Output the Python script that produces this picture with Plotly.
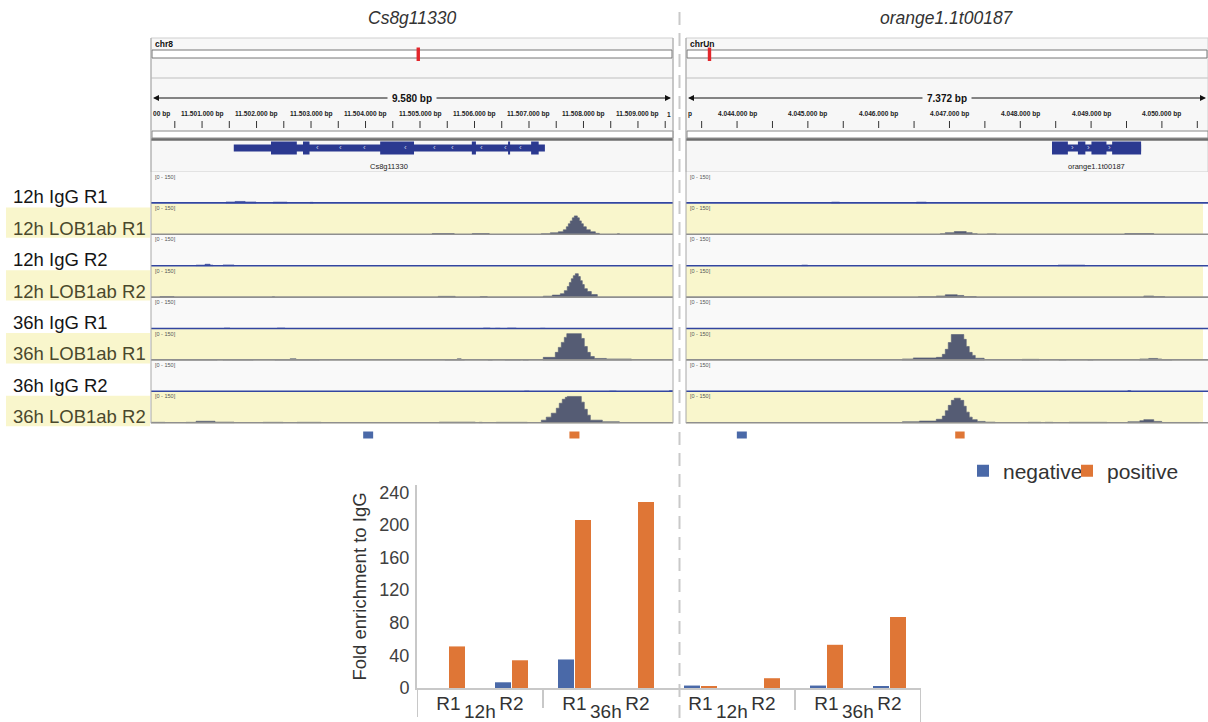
import plotly.graph_objects as go

W, H = 1208, 722
FONT = "Liberation Sans, Arial, sans-serif"

# ---------------- data: genome browser context ----------------
gene_titles = ["Cs8g11330", "orange1.1t00187"]
chrom_names = ["chr8", "chrUn"]
span_labels = ["9.580 bp", "7.372 bp"]
view_start = [11500063, 4043279]
view_end = [11509643, 4050651]
ideogram_frac = [0.512, 0.045]

ruler_ticks_left = [11500500, 11501000, 11501500, 11502000, 11502500, 11503000, 11503500,
                    11504000, 11504500, 11505000, 11505500, 11506000, 11506500, 11507000,
                    11507500, 11508000, 11508500, 11509000, 11509500]
ruler_label_pos_left = [11501000, 11502000, 11503000, 11504000, 11505000, 11506000,
                        11507000, 11508000, 11509000]
ruler_labels_left = ["11.501.000 bp", "11.502.000 bp", "11.503.000 bp", "11.504.000 bp",
                     "11.505.000 bp", "11.506.000 bp", "11.507.000 bp", "11.508.000 bp",
                     "11.509.000 bp"]
ruler_ticks_right = [4043500, 4044000, 4044500, 4045000, 4045500, 4046000, 4046500, 4047000,
                     4047500, 4048000, 4048500, 4049000, 4049500, 4050000, 4050500]
ruler_label_pos_right = [4044000, 4045000, 4046000, 4047000, 4048000, 4049000, 4050000]
ruler_labels_right = ["4.044.000 bp", "4.045.000 bp", "4.046.000 bp", "4.047.000 bp",
                      "4.048.000 bp", "4.049.000 bp", "4.050.000 bp"]
ruler_edge_left = ("00 bp", "1")
ruler_edge_right = ("p", "")

gene_span = [(11501582, 11507292), (4048448, 4049706)]
gene_exons_left = [(11502265, 11502739), (11502853, 11502972), (11504269, 11504890),
                   (11505951, 11506026), (11506616, 11506653), (11507039, 11507178)]
gene_exons_right = [(4048448, 4048672), (4048814, 4048919), (4049005, 4049217),
                    (4049297, 4049706)]
chevrons_left = [11503112, 11503534, 11503975, 11504728, 11505261, 11505591, 11506124,
                 11506565, 11506840]
chevrons_right = [4048743, 4048962, 4049257]

amplicons_left = [("negative", 11503957, 11504140), ("positive", 11507742, 11507926)]
amplicons_right = [("negative", 4043997, 4044138), ("positive", 4047081, 4047214)]

track_labels = ["12h IgG R1", "12h LOB1ab R1", "12h IgG R2", "12h LOB1ab R2",
                "36h IgG R1", "36h LOB1ab R1", "36h IgG R2", "36h LOB1ab R2"]

cov_left = [
    [(11501440, 11501606, 8), (11501606, 11501790, 11), (11501790, 11501991, 8),
     (11502304, 11502561, 7), (11502983, 11503038, 6)],
    [(11505224, 11505628, 7), (11505959, 11506271, 7),
     (11507226, 11507391, 6), (11507391, 11507538, 11), (11507538, 11507630, 17),
     (11507630, 11507685, 28), (11507685, 11507722, 45), (11507722, 11507758, 62),
     (11507758, 11507795, 78), (11507795, 11507832, 95), (11507832, 11507887, 106),
     (11507887, 11507924, 95), (11507924, 11507960, 78), (11507960, 11507997, 62),
     (11507997, 11508052, 45), (11508052, 11508126, 28), (11508126, 11508218, 17),
     (11508218, 11508291, 8), (11508622, 11508660, 6)],
    [(11500890, 11501055, 6), (11501055, 11501147, 11), (11501147, 11501202, 6),
     (11501385, 11501587, 7)],
    [(11500228, 11500485, 6), (11502290, 11502330, 5), (11505334, 11505646, 7),
     (11506105, 11506234, 6),
     (11507262, 11507428, 8), (11507428, 11507575, 14), (11507575, 11507648, 22),
     (11507648, 11507703, 39), (11507703, 11507740, 62), (11507740, 11507777, 84),
     (11507777, 11507813, 106), (11507813, 11507850, 123), (11507850, 11507905, 134),
     (11507905, 11507942, 118), (11507942, 11507978, 95), (11507978, 11508015, 73),
     (11508015, 11508071, 50), (11508071, 11508144, 34), (11508144, 11508254, 17)],
    [(11501404, 11501514, 5), (11502377, 11502524, 5), (11506161, 11506289, 5),
     (11506381, 11506473, 4), (11506601, 11506767, 5), (11507207, 11507299, 4)],
    [(11500449, 11501275, 5), (11501385, 11501936, 5), (11502340, 11502616, 5),
     (11502616, 11502726, 9), (11502726, 11503149, 5), (11505463, 11505683, 5),
     (11505683, 11505756, 9), (11505756, 11505812, 5), (11506252, 11506326, 4),
     (11506565, 11506840, 5), (11506895, 11506987, 4),
     (11507262, 11507483, 17), (11507483, 11507538, 45), (11507538, 11507593, 73),
     (11507593, 11507648, 101), (11507648, 11507694, 129), (11507694, 11507960, 150),
     (11507960, 11508015, 123), (11508015, 11508071, 78), (11508071, 11508126, 45),
     (11508126, 11508199, 22), (11508199, 11508420, 11), (11508420, 11508879, 8)],
    [(11506914, 11507005, 4), (11508475, 11508603, 4), (11509577, 11509643, 6)],
    [(11500063, 11500320, 5), (11500706, 11500890, 5), (11500890, 11501238, 11),
     (11501238, 11501587, 6), (11502120, 11502487, 5), (11502744, 11503185, 5),
     (11505352, 11506014, 6), (11506087, 11506142, 5), (11506399, 11506968, 5),
     (11507226, 11507317, 17), (11507317, 11507409, 34), (11507409, 11507501, 56),
     (11507501, 11507556, 84), (11507556, 11507611, 112), (11507611, 11507666, 134),
     (11507666, 11507703, 145), (11507703, 11507960, 150), (11507960, 11508015, 118),
     (11508015, 11508071, 78), (11508071, 11508126, 45), (11508126, 11508346, 17),
     (11508346, 11508659, 8)],
]
cov_right = [
    [(4045335, 4045448, 7), (4046533, 4046673, 7)],
    [(4046871, 4046941, 6), (4046941, 4047068, 12), (4047068, 4047237, 18),
     (4047237, 4047321, 12), (4047321, 4047392, 6), (4047533, 4047659, 5),
     (4049476, 4049885, 7)],
    [(4044913, 4044997, 6), (4048533, 4048913, 6)],
    [(4046561, 4046814, 5), (4046814, 4046941, 9), (4046941, 4047110, 16),
     (4047110, 4047202, 12), (4047202, 4047378, 6), (4049744, 4049885, 9),
     (4049885, 4050040, 6)],
    [],
    [(4046335, 4046490, 8), (4046490, 4046814, 14), (4046814, 4046899, 17),
     (4046899, 4046941, 34), (4046941, 4046983, 62), (4046983, 4047026, 100),
     (4047026, 4047202, 145), (4047202, 4047237, 118), (4047237, 4047279, 78),
     (4047279, 4047321, 45), (4047321, 4047364, 28), (4047364, 4047490, 12),
     (4048026, 4048265, 6), (4048547, 4048646, 5), (4048955, 4049026, 5),
     (4049688, 4049814, 8), (4049814, 4049940, 11), (4049940, 4049997, 8),
     (4049997, 4050138, 4)],
    [(4049519, 4049561, 6)],
    [(4046335, 4046575, 8), (4046575, 4046814, 12), (4046814, 4046899, 22),
     (4046899, 4046941, 40), (4046941, 4046983, 70), (4046983, 4047026, 100),
     (4047026, 4047068, 128), (4047068, 4047153, 140), (4047153, 4047202, 128),
     (4047202, 4047237, 95), (4047237, 4047279, 62), (4047279, 4047321, 34),
     (4047321, 4047392, 20), (4047392, 4047504, 10), (4047504, 4047645, 6),
     (4048110, 4048293, 5), (4048350, 4048462, 5), (4048688, 4049223, 5),
     (4049519, 4049688, 8), (4049688, 4049744, 14), (4049744, 4049885, 20),
     (4049885, 4049997, 10), (4049997, 4050519, 4)],
]

# ---------------- data: ChIP-qPCR bar chart ----------------
bar_panel = ["Cs8g11330"] * 4 + ["orange1.1t00187"] * 4
bar_time = ["12h", "12h", "36h", "36h", "12h", "12h", "36h", "36h"]
bar_rep = ["R1", "R2", "R1", "R2", "R1", "R2", "R1", "R2"]
negative_vals = [0, 7, 35, 0, 3, 0, 3, 2]
positive_vals = [51, 34, 206, 228, 2, 12, 53, 87]
y_ticks = [0, 40, 80, 120, 160, 200, 240]

# ---------------- styling / geometry ----------------
C_NEG = "#4a69a8"
C_POS = "#df7636"
C_GENE = "#2b3990"
C_IGG = "#2f3f96"
C_LOB = "#555c74"
C_YEL = "#f9f6cc"
C_PANEL = "#f7f7f7"

PANEL_X = [(151, 673), (686, 1208)]
XREF = ["x", "x2"]
TRACK_TOP, TRACK_H = 172, 31.4
Y_RANGE = [0, 176]


def px(x):
    return x / W


def py(y):
    return 1 - y / H


def ann(**kw):
    d = dict(showarrow=False, xanchor="center", yanchor="middle")
    d.update(kw)
    return d


def step_path(segs):
    xs, ys = [], []
    prev_e = None
    for s, e, v in segs:
        if prev_e is not None and s == prev_e:
            xs += [s, e]
            ys += [v, v]
        else:
            if prev_e is not None:
                xs += [prev_e, None]
                ys += [0, None]
            xs += [s, s, e]
            ys += [0, v, v]
        prev_e = e
    if prev_e is not None:
        xs.append(prev_e)
        ys.append(0)
    return xs, ys


fig = go.Figure()
shapes = []
annots = []
layout_axes = {}

# genome x axes
layout_axes["xaxis"] = dict(domain=[px(PANEL_X[0][0]), px(PANEL_X[0][1])],
                            range=[view_start[0], view_end[0]], visible=False,
                            anchor="y2", fixedrange=True, automargin=False)
layout_axes["xaxis2"] = dict(domain=[px(PANEL_X[1][0]), 1.0],
                             range=[view_start[1], view_end[1]], visible=False,
                             anchor="y10", fixedrange=True, automargin=False)

panels = [
    dict(exons=gene_exons_left, chev=chevrons_left, chev_txt="‹",
         ticks=ruler_ticks_left, lab_pos=ruler_label_pos_left, labs=ruler_labels_left,
         edge=ruler_edge_left, amp=amplicons_left, cov=cov_left),
    dict(exons=gene_exons_right, chev=chevrons_right, chev_txt="›",
         ticks=ruler_ticks_right, lab_pos=ruler_label_pos_right, labs=ruler_labels_right,
         edge=ruler_edge_right, amp=amplicons_right, cov=cov_right),
]

for p, P in enumerate(panels):
    x0, x1 = PANEL_X[p]
    xr = XREF[p]
    cx = (x0 + x1) / 2
    # title
    annots.append(ann(xref="paper", yref="paper", x=px(cx), y=py(18), text=gene_titles[p],
                      font=dict(family=FONT, size=17.5, color="#333", style="italic")))
    # header background and frame
    shapes.append(dict(type="rect", xref="paper", yref="paper", x0=px(x0), x1=px(x1),
                       y0=py(172), y1=py(38), fillcolor=C_PANEL,
                       line=dict(color="#cfcfcf", width=1), layer="below"))
    shapes.append(dict(type="line", xref="paper", yref="paper", x0=px(x0), x1=px(x1),
                       y0=py(78), y1=py(78), line=dict(color="#d2d2d2", width=1.5)))
    # chromosome ideogram
    annots.append(ann(xref="paper", yref="paper", x=px(x0 + 2), y=py(44), xanchor="left",
                      text=chrom_names[p],
                      font=dict(family=FONT, size=8.5, color="#111", weight="bold")))
    shapes.append(dict(type="rect", xref="paper", yref="paper", x0=px(x0 + 1), x1=px(x1 - 1),
                       y0=py(58), y1=py(50), fillcolor="white",
                       line=dict(color="#777", width=1)))
    mx = x0 + ideogram_frac[p] * (x1 - x0)
    shapes.append(dict(type="rect", xref="paper", yref="paper", x0=px(mx - 1.7), x1=px(mx + 1.7),
                       y0=py(61), y1=py(47.5), fillcolor="#e3262b", line=dict(width=0)))
    # ruler span arrow
    for end in (x0 + 2, x1 - 2):
        annots.append(dict(xref="paper", yref="paper", x=px(end), y=py(98), ax=cx - end,
                           ay=0, axref="pixel", ayref="pixel", text="", showarrow=True,
                           arrowhead=2, arrowsize=1.2, arrowwidth=1, arrowcolor="#111"))
    annots.append(ann(xref="paper", yref="paper", x=px(cx), y=py(98), text=span_labels[p],
                      bgcolor=C_PANEL, borderpad=4,
                      font=dict(family=FONT, size=10, color="#111", weight="bold")))
    # ruler ticks & labels
    for t in P["ticks"]:
        shapes.append(dict(type="line", xref=xr, yref="paper", x0=t, x1=t, y0=py(128),
                           y1=py(121), line=dict(color="#333", width=1)))
    rfont = dict(family=FONT, size=6.6, color="#222", weight="bold")
    for t, lab in zip(P["lab_pos"], P["labs"]):
        annots.append(ann(xref=xr, yref="paper", x=t, y=py(114), text=lab, font=rfont))
    if P["edge"][0]:
        annots.append(ann(xref=xr, yref="paper", x=view_start[p], xanchor="left", y=py(114),
                          text=P["edge"][0], font=rfont))
    if P["edge"][1]:
        annots.append(ann(xref=xr, yref="paper", x=view_end[p], xanchor="right", y=py(114),
                          text=P["edge"][1], font=rfont))
    shapes.append(dict(type="rect", xref="paper", yref="paper", x0=px(x0 + 1), x1=px(x1),
                       y0=py(138), y1=py(131), fillcolor="white",
                       line=dict(color="#8a8a8a", width=1)))
    shapes.append(dict(type="line", xref="paper", yref="paper", x0=px(x0), x1=px(x1),
                       y0=py(139.5), y1=py(139.5), line=dict(color="#6e6e6e", width=2.5)))
    # gene model
    gs, ge = gene_span[p]
    shapes.append(dict(type="rect", xref=xr, yref="paper", x0=gs, x1=ge, y0=py(151.5),
                       y1=py(144.5), fillcolor=C_GENE, line=dict(width=0)))
    for es, ee in P["exons"]:
        shapes.append(dict(type="rect", xref=xr, yref="paper", x0=es, x1=ee, y0=py(154.5),
                           y1=py(141.5), fillcolor=C_GENE, line=dict(width=0)))
    for c in P["chev"]:
        annots.append(ann(xref=xr, yref="paper", x=c, y=py(147.5), text=P["chev_txt"],
                          font=dict(family=FONT, size=8, color="#c9cde6")))
    annots.append(ann(xref=xr, yref="paper", x=(gs + ge) / 2, y=py(166), text=gene_titles[p],
                      font=dict(family=FONT, size=7.5, color="#222")))
    # coverage tracks
    for i, lab in enumerate(track_labels):
        top = TRACK_TOP + i * TRACK_H
        bot = top + TRACK_H
        is_lob = "LOB1ab" in lab
        yname = 2 + i + 8 * p
        layout_axes["yaxis%d" % yname] = dict(domain=[py(bot), py(top)], range=Y_RANGE,
                                              visible=False, anchor=xr, fixedrange=True,
                                              automargin=False)
        bg_x1 = x1 - 5 if (is_lob and p == 1) else x1
        shapes.append(dict(type="rect", xref="paper", yref="paper", x0=px(x0), x1=px(bg_x1),
                           y0=py(bot), y1=py(top), fillcolor=C_YEL if is_lob else "#f9f9f9",
                           line=dict(width=0), layer="below"))
        shapes.append(dict(type="line", xref="paper", yref="paper", x0=px(x0), x1=px(x1),
                           y0=py(bot - 0.5), y1=py(bot - 0.5),
                           line=dict(color="#8f8f8f" if is_lob else "#3346a0", width=1.6)))
        annots.append(ann(xref="paper", yref="paper", x=px(x0 + 2), y=py(top + 4.5),
                          xanchor="left", text="[0 - 150]",
                          font=dict(family=FONT, size=5.5, color="#555")))
        xs, ys = step_path(P["cov"][i])
        if xs:
            col = C_LOB if is_lob else C_IGG
            fig.add_trace(go.Scatter(x=xs, y=ys, mode="lines", fill="toself", fillcolor=col,
                                     line=dict(color=col, width=0.6), xaxis=xr,
                                     yaxis="y%d" % yname, showlegend=False,
                                     hoverinfo="skip"))
        if p == 0:
            if is_lob:
                shapes.append(dict(type="rect", xref="paper", yref="paper", x0=px(6),
                                   x1=px(150), y0=py(bot + 3), y1=py(top + 4),
                                   fillcolor=C_YEL, line=dict(width=0), layer="below"))
            annots.append(ann(xref="paper", yref="paper", x=px(11), y=py(bot - 6.5),
                              xanchor="left", text=lab,
                              font=dict(family=FONT, size=18.5,
                                        color="#4a482c" if is_lob else "#151515")))
    # track area borders
    shapes.append(dict(type="line", xref="paper", yref="paper", x0=px(x0), x1=px(x0),
                       y0=py(TRACK_TOP + 8 * TRACK_H), y1=py(38),
                       line=dict(color="#a8a8a8", width=1)))
    if p == 0:
        shapes.append(dict(type="line", xref="paper", yref="paper", x0=px(x1), x1=px(x1),
                           y0=py(TRACK_TOP + 8 * TRACK_H), y1=py(38),
                           line=dict(color="#a8a8a8", width=1)))
    # qPCR amplicon positions
    for kind, s, e in P["amp"]:
        shapes.append(dict(type="rect", xref=xr, yref="paper", x0=s, x1=e, y0=py(438.5),
                           y1=py(431.5), fillcolor=C_NEG if kind == "negative" else C_POS,
                           line=dict(width=0)))

# ---------------- bar chart ----------------
xpos = list(range(len(bar_rep)))
fig.add_trace(go.Bar(x=xpos, y=negative_vals, name="negative", marker_color=C_NEG,
                     xaxis="x3", yaxis="y18", legend="legend",
                     customdata=list(zip(bar_panel, bar_time, bar_rep))))
fig.add_trace(go.Bar(x=xpos, y=positive_vals, name="positive", marker_color=C_POS,
                     xaxis="x3", yaxis="y18", legend="legend2",
                     customdata=list(zip(bar_panel, bar_time, bar_rep))))

layout_axes["xaxis3"] = dict(domain=[px(417), px(921)], anchor="y18", range=[-0.5, 7.5],
                             tickvals=xpos, ticktext=bar_rep, showgrid=False, zeroline=False,
                             showline=True, linecolor="#c8c8c8", linewidth=2, ticks="",
                             ticklabelstandoff=-3,
                             tickfont=dict(family=FONT, size=19, color="#333"),
                             fixedrange=True, automargin=False)
layout_axes["yaxis18"] = dict(domain=[py(688), py(485)], anchor="x3", range=[0, 249],
                              tickvals=y_ticks, showgrid=False, zeroline=False,
                              showline=True, linecolor="#c8c8c8", linewidth=2, ticks="",
                              ticklabelstandoff=2, automargin=False,
                              tickfont=dict(family=FONT, size=18, color="#404040"),
                              title=dict(text="Fold enrichment to IgG", standoff=8,
                                         font=dict(family=FONT, size=18.5, color="#333")),
                              fixedrange=True)

# group labels and dividers under the category axis
group_mid = {}
for i, t in enumerate(bar_time):
    key = (bar_panel[i], t)
    group_mid.setdefault(key, []).append(i)
for (pn, t), idx in group_mid.items():
    annots.append(ann(xref="x3", yref="paper", x=sum(idx) / len(idx), y=py(711), text=t,
                      font=dict(family=FONT, size=19, color="#333")))
for xd, ybot in [(-0.5, 717), (1.5, 708), (5.5, 710), (7.5, 722)]:
    shapes.append(dict(type="line", xref="x3", yref="paper", x0=xd, x1=xd, y0=py(688),
                       y1=py(ybot), line=dict(color="#c8c8c8", width=2)))

# dashed divider between the two loci
shapes.append(dict(type="line", xref="paper", yref="paper", x0=px(679.5), x1=px(679.5),
                   y0=py(12), y1=py(722), line=dict(color="#c9c9c9", width=2,
                                                    dash="13px,8px")))

legend_style = dict(orientation="h", yanchor="middle", y=py(471), xanchor="left",
                    font=dict(family=FONT, size=21, color="#333"),
                    bgcolor="rgba(0,0,0,0)", itemclick=False, itemdoubleclick=False)

fig.update_layout(
    width=W, height=H, autosize=False,
    margin=dict(l=0, r=0, t=0, b=0, pad=0, autoexpand=False),
    paper_bgcolor="white", plot_bgcolor="rgba(0,0,0,0)",
    template="none",
    font=dict(family=FONT, color="#333"),
    barmode="group", bargap=0.46, bargroupgap=0.06,
    shapes=shapes, annotations=annots,
    showlegend=True,
    legend=dict(x=px(963), **legend_style),
    legend2=dict(x=px(1067), **legend_style),
    **layout_axes,
)

fig.write_html("out.html", config={"displayModeBar": False},
               post_script="document.body.style.margin='0px';")
